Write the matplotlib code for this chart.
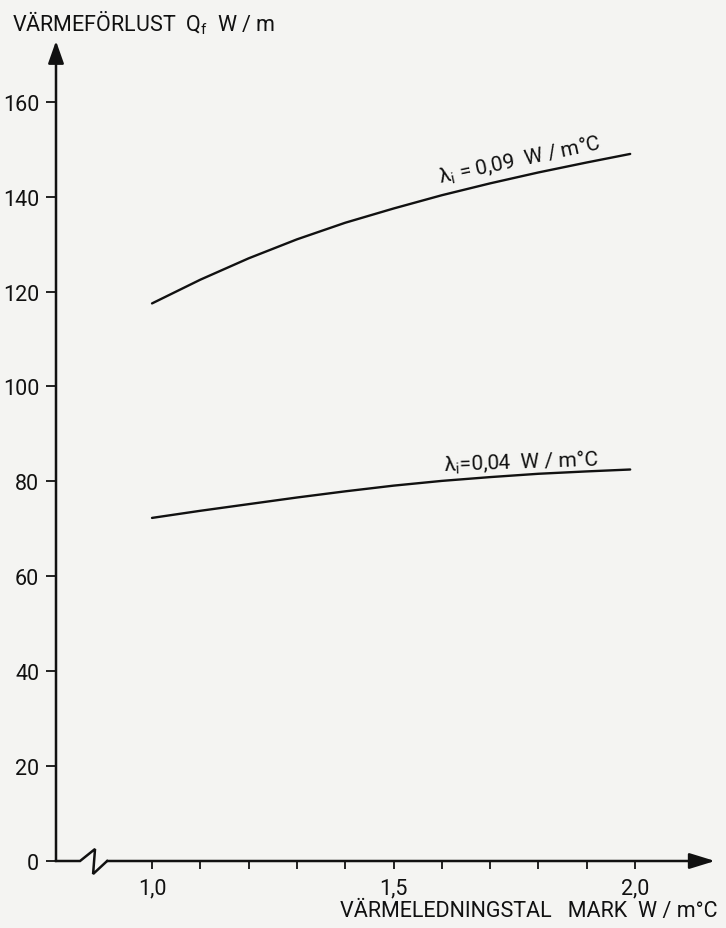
import matplotlib
matplotlib.use("Agg")
import matplotlib.pyplot as plt

plt.rcParams['font.family'] = ['Roboto', 'DejaVu Sans']
plt.rcParams['mathtext.default'] = 'regular'

# Ground thermal conductivity (W/m°C)
conductivity = [1.0, 1.1, 1.2, 1.3, 1.4, 1.5, 1.6, 1.7, 1.8, 1.9, 1.99]
# Heat loss Q_f (W/m) for two insulation conductivities
loss_009 = [117.5, 122.5, 127.0, 131.0, 134.5, 137.5, 140.3, 142.8, 145.1, 147.2, 149.0]
loss_004 = [72.3, 73.8, 75.2, 76.6, 77.9, 79.1, 80.1, 80.9, 81.6, 82.1, 82.5]

y_ticks = [0, 20, 40, 60, 80, 100, 120, 140, 160]
x_major = [1.0, 1.5, 2.0]
x_major_labels = ["1,0", "1,5", "2,0"]
x_minor = [1.1, 1.2, 1.3, 1.4, 1.6, 1.7, 1.8, 1.9]

label_009 = r"$\lambda_i$ = 0,09  W / m°C"
label_004 = r"$\lambda_i$=0,04  W / m°C"
y_title = r"VÄRMEFÖRLUST  Q$_f$  W / m"
x_title = "VÄRMELEDNINGSTAL   MARK  W / m°C"

paper = '#f4f4f2'
ink = '#111111'

fig = plt.figure(figsize=(7.26, 9.29), dpi=100, facecolor=paper)
ax = fig.add_axes([56 / 726, 67 / 929, 659 / 726, 820 / 929])
ax.set_facecolor(paper)

x_left, x_right = 0.8012, 2.1656
y_bottom, y_top = 0.0, 172.8
ax.set_xlim(x_left, x_right)
ax.set_ylim(y_bottom, y_top)

for s in ax.spines.values():
    s.set_visible(False)

# curves
ax.plot(conductivity, loss_009, color=ink, lw=1.7, solid_capstyle='round')
ax.plot(conductivity, loss_004, color=ink, lw=1.7, solid_capstyle='round')

# curve labels
ax.text(1.765, 145.6, label_009, rotation=12, rotation_mode='anchor',
        ha='center', va='bottom', fontsize=15, color=ink)
ax.text(1.765, 82.0, label_004, rotation=2, rotation_mode='anchor',
        ha='center', va='bottom', fontsize=15, color=ink)

# y axis with arrow
ax.annotate('', xy=(x_left, y_top), xytext=(x_left, 0), xycoords='data',
            arrowprops=dict(arrowstyle='-|>,head_length=0.68,head_width=0.24',
                            mutation_scale=20, lw=1.8, color=ink,
                            shrinkA=0, shrinkB=0), annotation_clip=False)

# x axis with break symbol and arrow
brk_x = [x_left, 0.851, 0.882, 0.878, 0.907]
brk_y = [0, 0, 2.53, -2.74, 0]
ax.plot(brk_x, brk_y, color=ink, lw=1.8, clip_on=False, solid_joinstyle='miter')
ax.annotate('', xy=(x_right, 0), xytext=(0.907, 0), xycoords='data',
            arrowprops=dict(arrowstyle='-|>,head_length=0.78,head_width=0.24',
                            mutation_scale=20, lw=1.8, color=ink,
                            shrinkA=0, shrinkB=0), annotation_clip=False)

# ticks
ax.set_yticks(y_ticks)
ax.set_yticklabels([str(v) for v in y_ticks])
ax.set_xticks(x_major)
ax.set_xticklabels(x_major_labels)
ax.set_xticks(x_minor, minor=True)
ax.tick_params(axis='y', direction='out', length=7, width=1.3, pad=5,
               labelsize=15.5, colors=ink)
ax.tick_params(axis='x', which='both', direction='out', length=6, width=1.3,
               pad=6, labelsize=15.5, colors=ink)

# axis titles
fig.text(12 / 726, 1 - 23 / 929, y_title, ha='left', va='center',
         fontsize=15.5, color=ink)
fig.text(718 / 726, 1 - 912 / 929, x_title, ha='right', va='center',
         fontsize=15.5, color=ink)

fig.savefig('out.png', dpi=100, facecolor=paper)
